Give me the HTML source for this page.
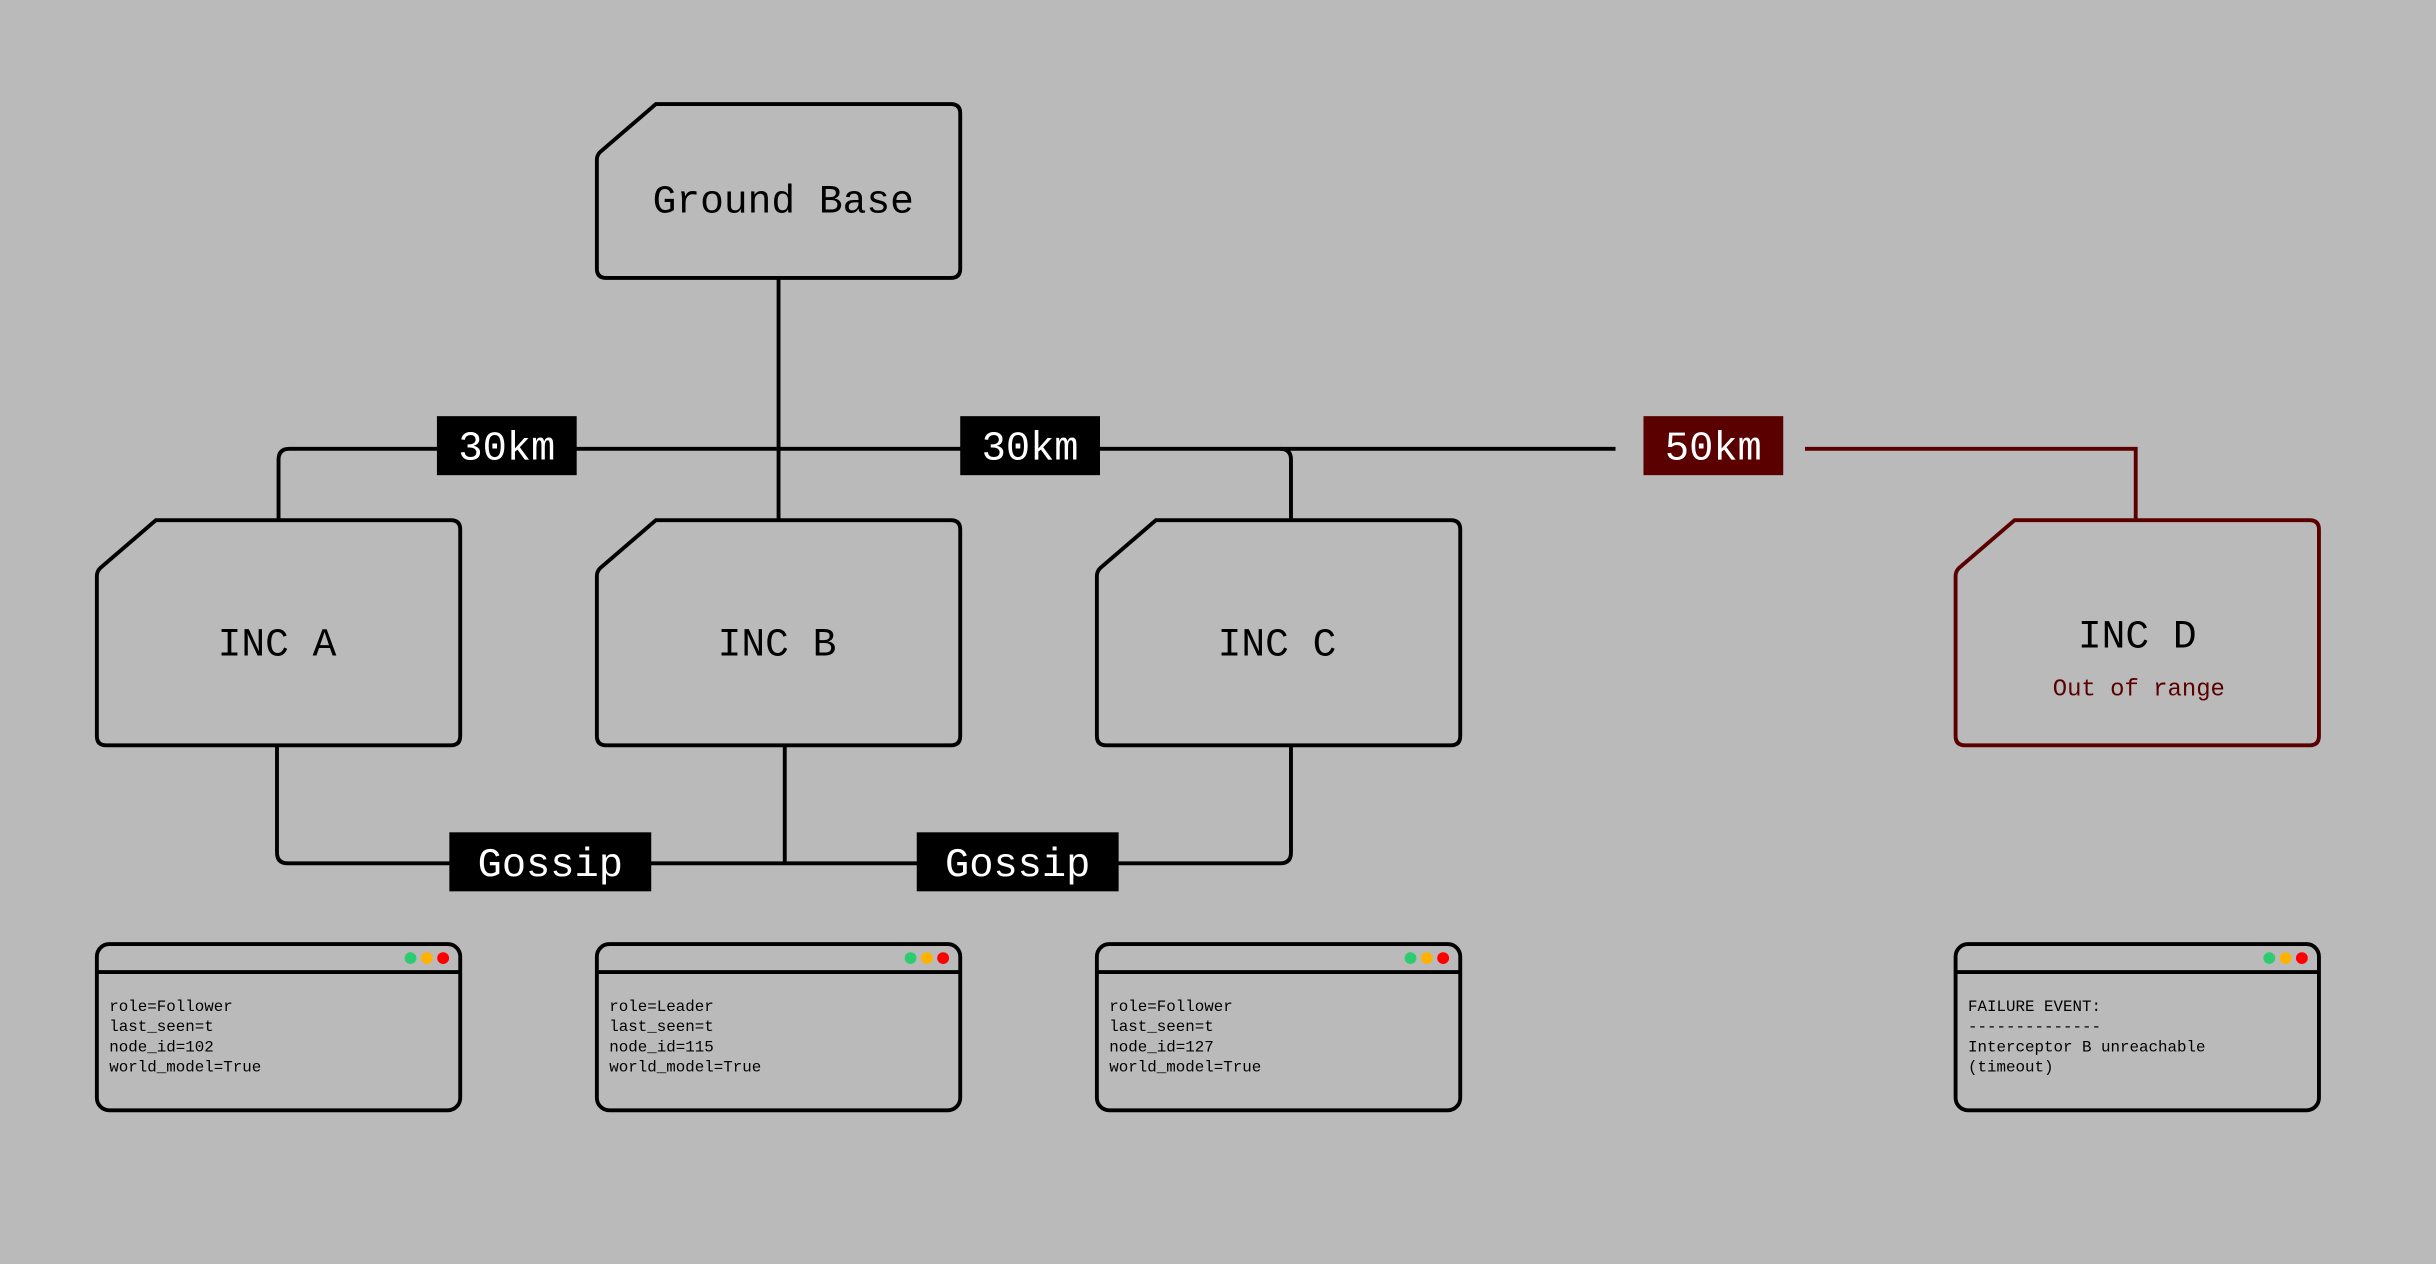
<!DOCTYPE html>
<html><head><meta charset="utf-8"><style>
html,body{margin:0;padding:0;background:#bababa;}
svg{display:block;}
text{font-family:"Liberation Mono",monospace;}
</style></head><body>
<svg width="2436" height="1264" viewBox="0 0 1568 814" xmlns="http://www.w3.org/2000/svg">
<rect width="1568" height="814" fill="#bababa"/>
<g fill="none" stroke="#000" stroke-width="2.5">
<path d="M179 335 V296 Q179 289 186 289 H1040"/>
<path d="M501 179 V335"/>
<path d="M824 289 Q831 289 831 296 V335"/>
<path d="M178 480 V549 Q178 556 185 556 H824 Q831 556 831 549 V480"/>
<path d="M505 480 V556"/>
</g>
<path d="M1162 289 H1375 V335" fill="none" stroke="#5a0000" stroke-width="2.5"/>
<g fill="none" stroke="#000" stroke-width="2.5">
<path d="M422 67 H612 Q618 67 618 73 V173 Q618 179 612 179 H390 Q384 179 384 173 V103 Q384 100 386 98 Z"/>
<path d="M100 335 H290 Q296 335 296 341 V474 Q296 480 290 480 H68 Q62 480 62 474 V371 Q62 368 64 366 Z"/>
<path d="M422 335 H612 Q618 335 618 341 V474 Q618 480 612 480 H390 Q384 480 384 474 V371 Q384 368 386 366 Z"/>
<path d="M744 335 H934 Q940 335 940 341 V474 Q940 480 934 480 H712 Q706 480 706 474 V371 Q706 368 708 366 Z"/>
</g>
<path d="M1297 335 H1487 Q1493 335 1493 341 V474 Q1493 480 1487 480 H1265 Q1259 480 1259 474 V371 Q1259 368 1261 366 Z" fill="none" stroke="#5a0000" stroke-width="2.5"/>
<g font-size="25.5" fill="#000" text-anchor="middle">
<text x="504" y="137">Ground Base</text>
<text x="178" y="422">INC A</text>
<text x="500" y="422">INC B</text>
<text x="822" y="422">INC C</text>
<text x="1376" y="417">INC D</text>
</g>
<text x="1377" y="448" font-size="15.4" fill="#5a0000" text-anchor="middle">Out of range</text>
<rect x="281" y="268" width="90" height="38" fill="#000"/>
<rect x="618" y="268" width="90" height="38" fill="#000"/>
<rect x="1058" y="268" width="90" height="38" fill="#5a0000"/>
<rect x="289" y="536" width="130" height="38" fill="#000"/>
<rect x="590" y="536" width="130" height="38" fill="#000"/>
<g font-size="26" fill="#fff" text-anchor="middle">
<text x="326" y="296">30km</text>
<text x="663" y="296">30km</text>
<text x="1103" y="296">50km</text>
<text x="354" y="564">Gossip</text>
<text x="655" y="564">Gossip</text>
</g>
<g id="w">
<rect x="62" y="608" width="234" height="107" rx="8" fill="none" stroke="#000" stroke-width="2.5"/>
<line x1="62" y1="626" x2="296" y2="626" stroke="#000" stroke-width="2.5"/>
<circle cx="264" cy="617" r="3.8" fill="#2ecc71"/>
<circle cx="274.5" cy="617" r="3.8" fill="#ffb300"/>
<circle cx="285" cy="617" r="3.8" fill="#ff0000"/>
</g>
<use href="#w" x="322"/>
<use href="#w" x="644"/>
<use href="#w" x="1197"/>
<g font-size="10.2" fill="#000">
<text x="70" y="651">role=Follower</text>
<text x="70" y="664">last_seen=t</text>
<text x="70" y="677">node_id=102</text>
<text x="70" y="690">world_model=True</text>
<text x="392" y="651">role=Leader</text>
<text x="392" y="664">last_seen=t</text>
<text x="392" y="677">node_id=115</text>
<text x="392" y="690">world_model=True</text>
<text x="714" y="651">role=Follower</text>
<text x="714" y="664">last_seen=t</text>
<text x="714" y="677">node_id=127</text>
<text x="714" y="690">world_model=True</text>
<text x="1267" y="651">FAILURE EVENT:</text>
<text x="1267" y="664">--------------</text>
<text x="1267" y="677">Interceptor B unreachable</text>
<text x="1267" y="690">(timeout)</text>
</g>
</svg>
</body></html>
